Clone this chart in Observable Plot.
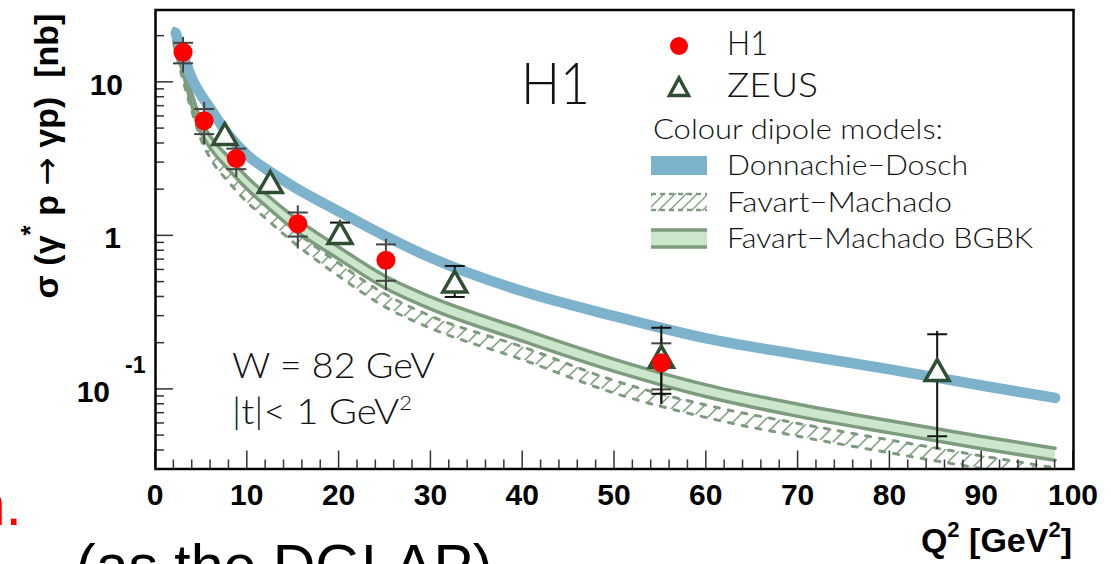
<!DOCTYPE html>
<html><head><meta charset="utf-8">
<script src="https://cdn.jsdelivr.net/npm/d3@7"></script>
<script src="https://cdn.jsdelivr.net/npm/@observablehq/plot@0.6"></script>
<style>
html,body{margin:0;padding:0;background:#fff;overflow:hidden;width:1111px;height:564px;}
#wrap{position:relative;width:1111px;height:564px;overflow:hidden;}
text{white-space:pre;}
</style></head><body><div id="wrap"></div>
<script>
// ---------- data ----------
const curveQ2   = [2, 3, 4, 5, 6, 8, 10, 12, 15, 20, 25, 30, 40, 50, 60, 70, 80, 90, 98];
const bgbkUpper = [22.4, 13.7, 8.3, 5.6, 4.43, 3.23, 2.41, 1.88, 1.34, 0.843, 0.548, 0.40, 0.247, 0.157, 0.107, 0.080, 0.0624, 0.0493, 0.0414];
const bgbkLower = [18.7, 11.4, 6.94, 4.66, 3.70, 2.69, 2.01, 1.57, 1.11, 0.703, 0.457, 0.333, 0.206, 0.131, 0.0895, 0.0667, 0.0521, 0.0411, 0.0345];
const fmUpper   = [21.5, 12.4, 7.7, 5.06, 3.85, 2.7, 2.0, 1.57, 1.1, 0.66, 0.418, 0.30, 0.189, 0.114, 0.079, 0.060, 0.0468, 0.0369, 0.0308];
const fmLower   = [17.7, 10.3, 6.36, 4.18, 3.18, 2.23, 1.65, 1.3, 0.91, 0.545, 0.345, 0.25, 0.156, 0.0945, 0.0655, 0.0495, 0.0386, 0.0305, 0.0255];
const ddQ2      = [2.2, 3, 4, 5, 6, 8, 10, 12, 15, 20, 25, 30, 40, 50, 60, 70, 80, 90, 98];
const ddSigma   = [21, 15, 10.5, 8.2, 6.7, 4.5, 3.36, 2.73, 2.1, 1.44, 1.0, 0.72, 0.435, 0.30, 0.215, 0.169, 0.135, 0.106, 0.088];

const h1Q2     = [3.0, 5.3, 8.8, 15.5, 25.1, 55.1];
const h1Sigma  = [15.7, 5.62, 3.19, 1.20, 0.694, 0.149];
const h1StatLo = [13.3, 4.6, 2.72, 0.99, 0.51, 0.100];
const h1StatHi = [18.1, 6.7, 3.7, 1.42, 0.88, 0.1995];
const h1TotLo  = [11.5, 3.9, 2.4, 0.82, 0.44, 0.082];
const h1TotHi  = [19.6, 7.4, 4.06, 1.57, 0.95, 0.215];

const zeusQ2     = [7.55, 12.5, 20.1, 32.6, 55.1, 85.15];
const zeusSigma  = [4.54, 2.21, 1.03, 0.496, 0.161, 0.1316];
const zeusStatLo = [null, null, 0.95, 0.40, 0.0936, 0.0495];
const zeusStatHi = [null, null, 1.22, 0.637, 0.252, 0.2286];
const zeusTotLo  = [null, null, 0.94, 0.40, 0.0798, 0.0405];
const zeusTotHi  = [null, null, 1.24, 0.64, 0.259, 0.2387];

const xTickValues  = [0, 10, 20, 30, 40, 50, 60, 70, 80, 90, 100];
const xTickLabels  = ["0", "10", "20", "30", "40", "50", "60", "70", "80", "90", "100"];
const yMajorTicks  = [0.1, 1, 10];
const yMinorTicks  = [0.04, 0.05, 0.06, 0.07, 0.08, 0.09, 0.2, 0.3, 0.4, 0.5, 0.6, 0.7, 0.8, 0.9, 2, 3, 4, 5, 6, 7, 8, 9, 20];
const legendLabels = ["H1", "ZEUS", "Colour dipole models:", "Donnachie\u2212Dosch", "Favart\u2212Machado", "Favart\u2212Machado BGBK"];

// ---------- styles ----------
const DD_COLOR = "#7db2cc", G_FILL = "#cce6cc", G_LINE = "#7d9b7d", Z_COLOR = "#2f4f33";
const BOLD = "'Liberation Sans', Arial, Helvetica, sans-serif";
const THIN = "Lato, 'Open Sans', 'DejaVu Sans', sans-serif";

// ---------- tables ----------
const curveRows = curveQ2.map((q, i) => ({q, bu: bgbkUpper[i], bl: bgbkLower[i], fu: fmUpper[i], fl: fmLower[i]}));
const ddRows = ddQ2.map((q, i) => ({q, s: ddSigma[i]}));
const h1Rows = h1Q2.map((q, i) => ({q, s: h1Sigma[i], sl: h1StatLo[i], sh: h1StatHi[i], tl: h1TotLo[i], th: h1TotHi[i]}));
const zeusRows = zeusQ2.map((q, i) => ({q, s: zeusSigma[i], sl: zeusStatLo[i], sh: zeusStatHi[i], tl: zeusTotLo[i], th: zeusTotHi[i]}));
const tickRows = rows => rows.flatMap(r => [r.sl, r.sh].filter(v => v != null).map(v => ({q: r.q, v})));
const h1Ticks = tickRows(h1Rows), zeusTicks = tickRows(zeusRows);

const hline = {draw(ctx, size) { const r = Math.sqrt(size / Math.PI); ctx.moveTo(-r, 0); ctx.lineTo(r, 0); }};
const tri = {draw(ctx, size) { const r = Math.sqrt(size / Math.PI); ctx.moveTo(0, -1.15 * r); ctx.lineTo(1.2 * r, 0.95 * r); ctx.lineTo(-1.2 * r, 0.95 * r); ctx.closePath(); }};

function defsMark() {
  const d = d3.create("svg:defs");
  const p = d.append("pattern").attr("id", "fmHatch").attr("patternUnits", "userSpaceOnUse").attr("width", 15).attr("height", 15);
  p.append("path").attr("d", "M0,15 L15,0 M-7.5,7.5 L7.5,-7.5 M7.5,22.5 L22.5,7.5").attr("stroke", G_LINE).attr("stroke-width", 1.5);
  const p2 = d.append("pattern").attr("id", "fmHatchLeg").attr("patternUnits", "userSpaceOnUse").attr("width", 11).attr("height", 11);
  p2.append("path").attr("d", "M0,11 L11,0 M-5.5,5.5 L5.5,-5.5 M5.5,16.5 L16.5,5.5").attr("stroke", G_LINE).attr("stroke-width", 1.3);
  return d.node();
}

function axesMark(index, {x, y}) {
  const g = d3.create("svg:g").attr("stroke", "#333").attr("stroke-width", 1.5);
  const x0 = x(0), yb = y(0.0303);
  for (const v of yMajorTicks) g.append("line").attr("x1", x0).attr("x2", x0 + 18).attr("y1", y(v)).attr("y2", y(v));
  for (const v of yMinorTicks) g.append("line").attr("x1", x0).attr("x2", x0 + 9).attr("y1", y(v)).attr("y2", y(v));
  for (const v of xTickValues) g.append("line").attr("x1", x(v)).attr("x2", x(v)).attr("y1", yb).attr("y2", yb - 18);
  for (const v of d3.range(2, 100, 2).filter(v => v % 10)) g.append("line").attr("x1", x(v)).attr("x2", x(v)).attr("y1", yb).attr("y2", yb - 9);
  const t = d3.create("svg:g").attr("font-family", BOLD).attr("font-weight", "bold").attr("fill", "#000");
  xTickValues.forEach((v, i) => t.append("text").attr("x", x(v)).attr("y", yb + 36.5).attr("text-anchor", "middle").attr("font-size", 30).text(xTickLabels[i]));
  t.append("text").attr("x", 123).attr("y", y(10) + 13).attr("text-anchor", "end").attr("font-size", 30).text("10");
  t.append("text").attr("x", 121).attr("y", y(1) + 13).attr("text-anchor", "end").attr("font-size", 30).text("1");
  t.append("text").attr("x", 110).attr("y", y(0.1) + 13).attr("text-anchor", "end").attr("font-size", 30).text("10");
  t.append("text").attr("x", 125).attr("y", y(0.1) - 16).attr("text-anchor", "start").attr("font-size", 23).text("-1");
  const out = d3.create("svg:g");
  out.append(() => g.node()); out.append(() => t.node());
  return out.node();
}

function titlesMark() {
  const g = d3.create("svg:g").attr("font-family", BOLD).attr("font-weight", "bold").attr("fill", "#000");
  const yl = g.append("text").attr("transform", "translate(58,156) rotate(-90)").attr("text-anchor", "middle").attr("font-size", 34);
  yl.append("tspan").text("\u03c3 (\u03b3");
  yl.append("tspan").attr("dy", -19).attr("font-size", 26).text("*");
  yl.append("tspan").attr("dy", 19).text(" p ");
  yl.append("tspan").attr("font-family", "'DejaVu Sans', sans-serif").attr("font-weight", "normal").text("\u2192");
  yl.append("tspan").text(" \u03b3p)  [nb]");
  const xl = g.append("text").attr("x", 1072).attr("y", 552).attr("text-anchor", "end").attr("font-size", 34);
  xl.append("tspan").text("Q");
  xl.append("tspan").attr("dy", -15).attr("font-size", 22).text("2");
  xl.append("tspan").attr("dy", 15).text(" [GeV");
  xl.append("tspan").attr("dy", -15).attr("font-size", 22).text("2");
  xl.append("tspan").attr("dy", 15).text("]");
  return g.node();
}

function annotationsMark() {
  const g = d3.create("svg:g").attr("font-family", THIN).attr("font-weight", 300).attr("fill", "#111").attr("text-anchor", "start");
  g.append("text").attr("x", 521).attr("y", 104).attr("font-size", 58).attr("textLength", 69).attr("lengthAdjust", "spacingAndGlyphs").text("H1");
  g.append("text").attr("x", 232).attr("y", 378).attr("font-size", 35).attr("textLength", 203).attr("lengthAdjust", "spacingAndGlyphs").text("W = 82 GeV");
  const t2 = g.append("text").attr("x", 232).attr("y", 424).attr("font-size", 35).attr("textLength", 180).attr("lengthAdjust", "spacingAndGlyphs");
  t2.append("tspan").text("|t|< 1 GeV");
  t2.append("tspan").attr("dy", -14).attr("font-size", 20).text("2");
  return g.node();
}

function legendMark() {
  const g = d3.create("svg:g").attr("text-anchor", "start");
  const txt = (x, y, s, size, len) => g.append("text").attr("x", x).attr("y", y).attr("font-family", THIN).attr("font-weight", 300)
    .attr("font-size", size).attr("fill", "#111").attr("text-anchor", "start").attr("textLength", len).attr("lengthAdjust", "spacingAndGlyphs").text(s);
  g.append("circle").attr("cx", 679).attr("cy", 46).attr("r", 9).attr("fill", "#ff0000");
  txt(727, 55, legendLabels[0], 34, 41);
  g.append("path").attr("d", "M679,78 L688.5,95.5 L669.5,95.5 Z").attr("fill", "white").attr("stroke", Z_COLOR).attr("stroke-width", 3.5);
  txt(727, 97, legendLabels[1], 34, 91);
  txt(653, 139, legendLabels[2], 27, 290);
  g.append("rect").attr("x", 651).attr("y", 156).attr("width", 56).attr("height", 19).attr("fill", DD_COLOR);
  txt(727, 175, legendLabels[3], 27, 241);
  g.append("rect").attr("x", 651).attr("y", 193).attr("width", 56).attr("height", 18).attr("fill", "url(#fmHatchLeg)");
  g.append("line").attr("x1", 651).attr("x2", 707).attr("y1", 194).attr("y2", 194).attr("stroke", G_LINE).attr("stroke-width", 2.5).attr("stroke-dasharray", "5,4");
  g.append("line").attr("x1", 651).attr("x2", 707).attr("y1", 210).attr("y2", 210).attr("stroke", G_LINE).attr("stroke-width", 2.5).attr("stroke-dasharray", "5,4");
  txt(727, 212, legendLabels[4], 27, 225);
  g.append("rect").attr("x", 651).attr("y", 230).attr("width", 56).attr("height", 17).attr("fill", G_FILL);
  g.append("line").attr("x1", 651).attr("x2", 707).attr("y1", 230).attr("y2", 230).attr("stroke", G_LINE).attr("stroke-width", 3.5);
  g.append("line").attr("x1", 651).attr("x2", 707).attr("y1", 247).attr("y2", 247).attr("stroke", G_LINE).attr("stroke-width", 3.5);
  txt(727, 248, legendLabels[5], 27, 306);
  return g.node();
}

function slideTextMark() {
  const g = d3.create("svg:g").attr("font-family", "'Liberation Sans', Arial, sans-serif").attr("text-anchor", "start");
  g.append("text").attr("x", -12).attr("y", -4).attr("font-size", 59).attr("fill", "#000").attr("text-anchor", "start").text(")");
  g.append("text").attr("x", 22).attr("y", 525).attr("text-anchor", "end").attr("font-size", 59).attr("fill", "#ff0000").text("n.");
  g.append("text").attr("x", 76).attr("y", 586).attr("text-anchor", "start").attr("font-size", 59).attr("fill", "#000").text("(as the DGLAP)");
  return g.node();
}

const chart = Plot.plot({
  width: 1111, height: 564,
  marginLeft: 155, marginRight: 38, marginTop: 9.5, marginBottom: 95.5,
  x: {domain: [0, 100], axis: null},
  y: {type: "log", domain: [0.0303, 29.6], axis: null},
  style: {background: "white"},
  marks: [
    defsMark,
    // Favart-Machado (hatched)
    Plot.areaY(curveRows, {x: "q", y1: "fl", y2: "fu", fill: "url(#fmHatch)", curve: "monotone-x", clip: true}),
    Plot.line(curveRows, {x: "q", y: "fu", stroke: G_LINE, strokeWidth: 3, strokeDasharray: "5,9", curve: "monotone-x", clip: true}),
    Plot.line(curveRows, {x: "q", y: "fl", stroke: G_LINE, strokeWidth: 3, strokeDasharray: "5,9", curve: "monotone-x", clip: true}),
    // Favart-Machado BGBK
    Plot.areaY(curveRows, {x: "q", y1: "bl", y2: "bu", fill: G_FILL, curve: "monotone-x", clip: true}),
    Plot.line(curveRows, {x: "q", y: "bu", stroke: G_LINE, strokeWidth: 3.5, curve: "monotone-x", clip: true}),
    Plot.line(curveRows, {x: "q", y: "bl", stroke: G_LINE, strokeWidth: 3.5, curve: "monotone-x", clip: true}),
    // Donnachie-Dosch
    Plot.line(ddRows, {x: "q", y: "s", stroke: DD_COLOR, strokeWidth: 10.5, curve: "monotone-x", clip: true}),
    // error bars
    Plot.ruleX(h1Rows, {x: "q", y1: "tl", y2: "th", stroke: "#444", strokeWidth: 2}),
    Plot.dot(h1Ticks, {x: "q", y: "v", symbol: hline, r: 10, stroke: "#444", strokeWidth: 2, fill: "none"}),
    Plot.ruleX(zeusRows.filter(d => d.tl != null), {x: "q", y1: "tl", y2: "th", stroke: "#111", strokeWidth: 2}),
    Plot.dot(zeusTicks, {x: "q", y: "v", symbol: hline, r: 10, stroke: "#111", strokeWidth: 2, fill: "none"}),
    // markers
    Plot.dot(zeusRows, {x: "q", y: "s", symbol: tri, r: 10, fill: "white", stroke: Z_COLOR, strokeWidth: 3.5}),
    Plot.dot(h1Rows, {x: "q", y: "s", r: 9.5, fill: "#ff0000", stroke: "none"}),
    axesMark,
    Plot.frame({stroke: "#000", strokeWidth: 2.5}),
    titlesMark,
    annotationsMark,
    legendMark,
    slideTextMark
  ]
});
document.getElementById("wrap").appendChild(chart);
</script>
</body></html>
